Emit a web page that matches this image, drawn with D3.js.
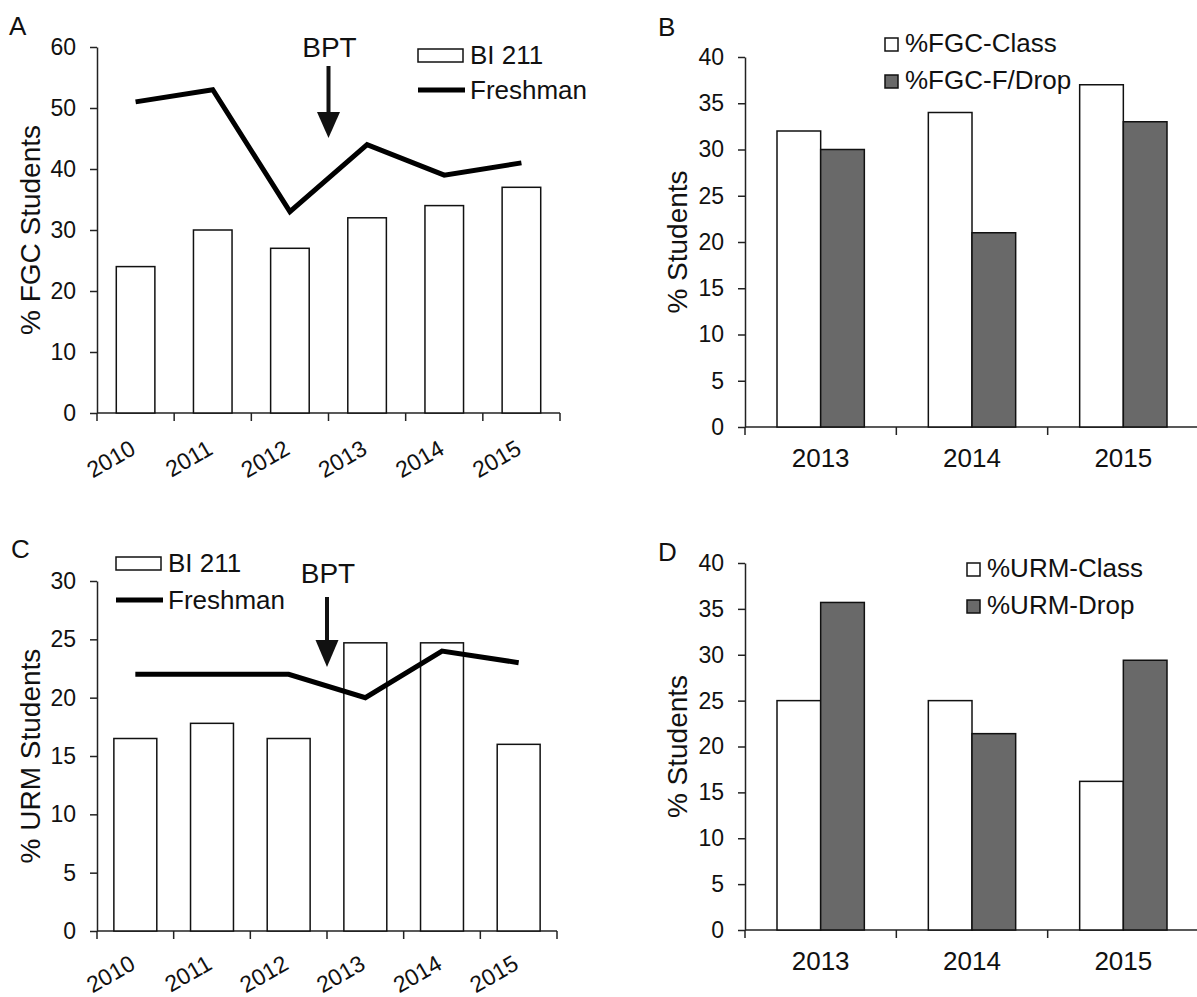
<!DOCTYPE html>
<html>
<head>
<meta charset="utf-8">
<script src="https://cdn.jsdelivr.net/npm/d3@7"></script>
<style>
  body { margin: 0; background: #fff; }
  svg { font-family: "Liberation Sans", Arial, sans-serif; }
</style>
</head>
<body>
<div id="chart"></div>
<script>
// data
const years6 = ["2010", "2011", "2012", "2013", "2014", "2015"];
const years3 = ["2013", "2014", "2015"];

const fgcBI211 = [24, 30, 27, 32, 34, 37];
const fgcFreshman = [51, 53, 33, 44, 39, 41];
const fgcClass = [32, 34, 37];
const fgcFDrop = [30, 21, 33];

const urmBI211 = [16.5, 17.8, 16.5, 24.7, 24.7, 16.0];
const urmFreshman = [22, 22, 22, 20, 24, 23];
const urmClass = [25, 25, 16.2];
const urmDrop = [35.7, 21.4, 29.4];

const ticksA = [0, 10, 20, 30, 40, 50, 60];
const ticksB = [0, 5, 10, 15, 20, 25, 30, 35, 40];
const ticksC = [0, 5, 10, 15, 20, 25, 30];
const ticksD = [0, 5, 10, 15, 20, 25, 30, 35, 40];

const width = 1197;
const height = 997;
const grayFill = "#696969";

const svg = d3.select("#chart")
  .append("svg")
  .attr("width", width)
  .attr("height", height);

// common axes for one panel, returns scales
function drawAxes(p) {
  const x = d3.scaleBand().domain(p.cats).range([p.x0, p.x1]).padding(0);
  const y = d3.scaleLinear().domain([0, p.yMax]).range([p.yBot, p.yTop]);
  const g = svg.append("g");

  // y axis
  const ya = g.append("g")
    .attr("transform", `translate(${p.x0},0)`)
    .call(d3.axisLeft(y).tickValues(p.ticks).tickSize(7).tickSizeOuter(0).tickPadding(14));
  ya.select(".domain").attr("stroke", "#222").attr("stroke-width", 1.5);
  ya.selectAll(".tick line").attr("stroke", "#222").attr("stroke-width", 1.5);
  ya.selectAll(".tick text").style("font-size", "23px").attr("fill", "#111");

  // x axis labels
  const xa = g.append("g")
    .attr("transform", `translate(0,${p.yBot})`)
    .call(d3.axisBottom(x).tickSize(0).tickSizeOuter(0));
  xa.select(".domain").remove();
  if (p.rotate) {
    xa.selectAll(".tick text")
      .attr("y", 0).attr("dy", 0)
      .attr("text-anchor", "end")
      .attr("transform", `translate(1.5,${p.labelOff}) rotate(-30)`)
      .style("font-size", "23px").attr("fill", "#111");
  } else {
    xa.selectAll(".tick text")
      .attr("y", 40).attr("dy", 0)
      .style("font-size", "26px").attr("fill", "#111");
  }

  // x axis line with ticks at the category boundaries
  g.append("line")
    .attr("x1", p.x0).attr("x2", p.x1)
    .attr("y1", p.yBot).attr("y2", p.yBot)
    .attr("stroke", "#222").attr("stroke-width", 1.5);
  const edges = p.cats.map(c => x(c)).concat([x(p.cats[p.cats.length - 1]) + x.bandwidth()]);
  g.selectAll(".xtick")
    .data(edges)
    .enter()
    .append("line")
    .attr("x1", d => d).attr("x2", d => d)
    .attr("y1", p.yBot).attr("y2", p.yBot + 8)
    .attr("stroke", "#222").attr("stroke-width", 1.5);

  // y title
  svg.append("text")
    .attr("transform", `translate(${p.titleX},${(p.yTop + p.yBot) / 2}) rotate(-90)`)
    .attr("text-anchor", "middle")
    .style("font-size", "28px")
    .attr("fill", "#111")
    .text(p.title);

  // panel letter
  svg.append("text")
    .attr("x", p.letterX).attr("y", p.letterY)
    .style("font-size", "26px")
    .attr("fill", "#111")
    .text(p.letter);

  return { x, y, g };
}

// panels A and C: bars + freshman line + BPT arrow
function drawTrend(p, bars, line) {
  const { x, y } = drawAxes(p);
  const bw = x.bandwidth() * p.barFrac;

  svg.append("g").selectAll("rect")
    .data(bars)
    .enter()
    .append("rect")
    .attr("x", (d, i) => x(p.cats[i]) + (x.bandwidth() - bw) / 2)
    .attr("y", d => y(d))
    .attr("width", bw)
    .attr("height", d => y(0) - y(d))
    .attr("fill", "#fff")
    .attr("stroke", "#111")
    .attr("stroke-width", 1.5);

  const lineGen = d3.line()
    .x((d, i) => x(p.cats[i]) + x.bandwidth() / 2)
    .y(d => y(d));
  svg.append("path")
    .datum(line)
    .attr("d", lineGen)
    .attr("fill", "none")
    .attr("stroke", "#000")
    .attr("stroke-width", 5)
    .attr("stroke-linejoin", "miter");

  // BPT annotation at the 2012/2013 boundary
  const ax = x("2013");
  svg.append("text")
    .attr("x", ax + 1).attr("y", p.bpt.text)
    .attr("text-anchor", "middle")
    .style("font-size", "28px")
    .attr("fill", "#111")
    .text("BPT");
  svg.append("line")
    .attr("x1", ax).attr("x2", ax)
    .attr("y1", p.bpt.shaft).attr("y2", p.bpt.head + 2)
    .attr("stroke", "#111").attr("stroke-width", 4);
  svg.append("path")
    .attr("d", `M${ax - 11.5},${p.bpt.head} L${ax + 11.5},${p.bpt.head} L${ax},${p.bpt.tip} Z`)
    .attr("fill", "#111");

  // legend
  const lg = svg.append("g").attr("transform", `translate(${p.legX},${p.legY})`);
  lg.append("rect")
    .attr("x", 0).attr("y", 0).attr("width", 45).attr("height", 13)
    .attr("fill", "#fff").attr("stroke", "#111").attr("stroke-width", 1.5);
  lg.append("text").attr("x", 52).attr("y", 15)
    .style("font-size", "26px").attr("fill", "#111").text("BI 211");
  lg.append("line")
    .attr("x1", 0).attr("x2", 47).attr("y1", p.legGap).attr("y2", p.legGap)
    .attr("stroke", "#000").attr("stroke-width", 5);
  lg.append("text").attr("x", 52).attr("y", p.legGap + 9)
    .style("font-size", "26px").attr("fill", "#111").text("Freshman");
}

// panels B and D: grouped bars
function drawGrouped(p, s1, s2, names) {
  const { x, y } = drawAxes(p);
  const sub = d3.scaleBand().domain([0, 1]).range([32, x.bandwidth() - 32]).padding(0);
  const series = [s1, s2];
  const fills = ["#fff", grayFill];

  series.forEach((vals, k) => {
    svg.append("g").selectAll("rect")
      .data(vals)
      .enter()
      .append("rect")
      .attr("x", (d, i) => x(p.cats[i]) + sub(k))
      .attr("y", d => y(d))
      .attr("width", sub.bandwidth())
      .attr("height", d => y(0) - y(d))
      .attr("fill", fills[k])
      .attr("stroke", "#111")
      .attr("stroke-width", 1.5);
  });

  const lg = svg.append("g").attr("transform", `translate(${p.legX},${p.legY})`);
  names.forEach((n, k) => {
    lg.append("rect")
      .attr("x", 0).attr("y", k * 37).attr("width", 13).attr("height", 13)
      .attr("fill", fills[k]).attr("stroke", "#111").attr("stroke-width", 1.5);
    lg.append("text")
      .attr("x", 20).attr("y", k * 37 + 14)
      .style("font-size", "26px").attr("fill", "#111").text(n);
  });
}

drawTrend({
  cats: years6, x0: 97, x1: 560, yTop: 47, yBot: 413, yMax: 60, ticks: ticksA,
  rotate: true, labelOff: 40, barFrac: 0.5,
  title: "% FGC Students", titleX: 40, letter: "A", letterX: 9, letterY: 35,
  bpt: { text: 57, shaft: 66, head: 112, tip: 138 },
  legX: 418, legY: 49, legGap: 41
}, fgcBI211, fgcFreshman);

drawGrouped({
  cats: years3, x0: 745, x1: 1199, yTop: 57, yBot: 427, yMax: 40, ticks: ticksB,
  rotate: false,
  title: "% Students", titleX: 687, letter: "B", letterX: 658, letterY: 36,
  legX: 885, legY: 38
}, fgcClass, fgcFDrop, ["%FGC-Class", "%FGC-F/Drop"]);

drawTrend({
  cats: years6, x0: 97, x1: 557, yTop: 581, yBot: 931, yMax: 30, ticks: ticksC,
  rotate: true, labelOff: 37, barFrac: 0.56,
  title: "% URM Students", titleX: 40, letter: "C", letterX: 11, letterY: 558,
  bpt: { text: 583, shaft: 597, head: 640, tip: 667 },
  legX: 116, legY: 557, legGap: 43
}, urmBI211, urmFreshman);

drawGrouped({
  cats: years3, x0: 745, x1: 1199, yTop: 563, yBot: 930, yMax: 40, ticks: ticksD,
  rotate: false,
  title: "% Students", titleX: 687, letter: "D", letterX: 658, letterY: 561,
  legX: 967, legY: 563
}, urmClass, urmDrop, ["%URM-Class", "%URM-Drop"]);
</script>
</body>
</html>
